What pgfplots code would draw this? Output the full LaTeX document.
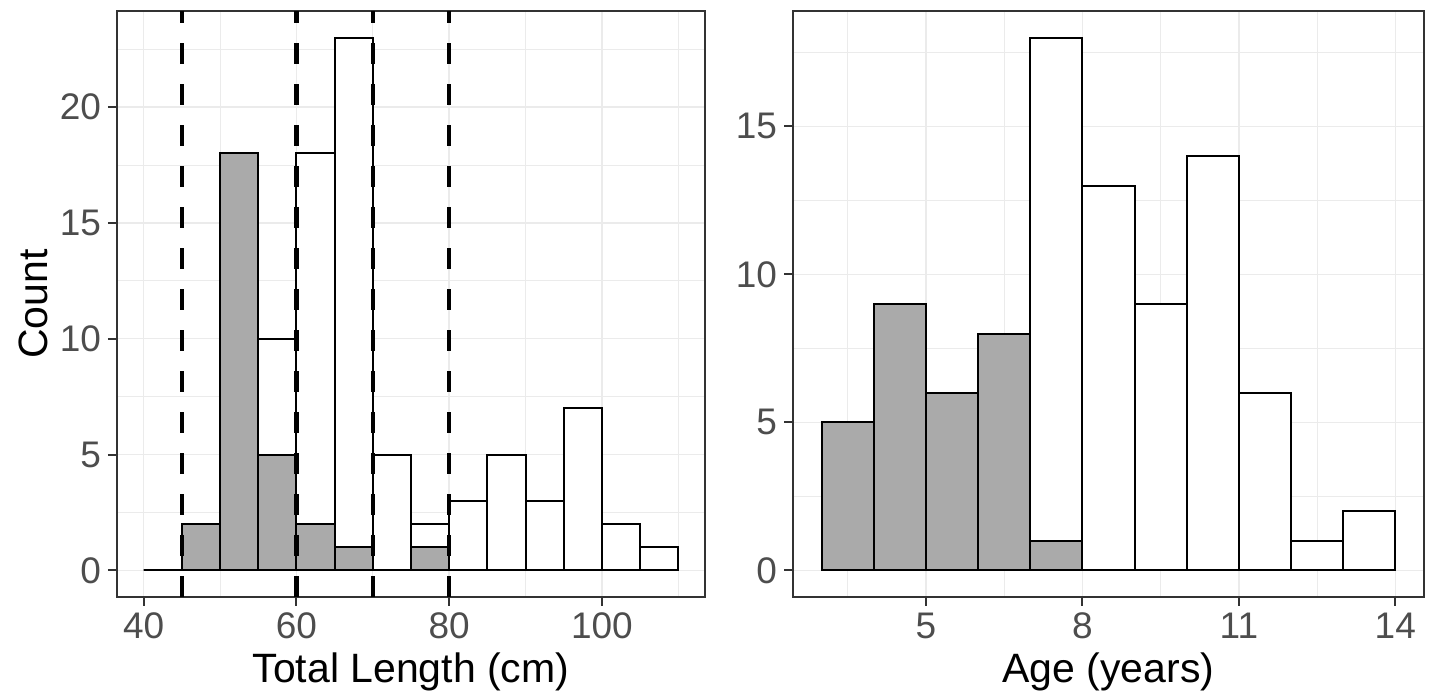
\documentclass[border=0pt]{standalone}
\usepackage{pgfplots}
\pgfplotsset{compat=1.18}
\usepackage{fontspec}
\setmainfont{Liberation Sans}

\definecolor{gridgray}{HTML}{EBEBEB}
\definecolor{framegray}{HTML}{333333}
\definecolor{ticktext}{HTML}{4D4D4D}
\definecolor{agedfill}{HTML}{AAAAAA}

% 1 px of the reference = 0.5pt
\pgfplotsset{
  panel/.style={
    scale only axis,
    anchor=south west,
    height=293pt,
    tick pos=left,
    tick align=outside,
    major tick length=4.5pt,
    minor tick length=0pt,
    major tick style={draw=framegray, line width=1pt},
    axis line style={draw=framegray, line width=0.8pt},
    grid=both,
    major grid style={draw=gridgray, line width=0.75pt},
    minor grid style={draw=gridgray, line width=0.4pt},
    /pgf/number format/assume math mode=true,
    ticklabel style={font=\fontsize{18.5}{20}\selectfont, text=ticktext},
    label style={font=\fontsize{20.5}{23}\selectfont, text=black},
  },
  totbar/.style={ybar interval, fill=white, draw=black, line width=1pt},
  agebar/.style={ybar interval, fill=agedfill, draw=black, line width=1pt},
  cutline/.style={black, line width=2.3pt, dash pattern=on 10.25pt off 10.25pt},
}

\begin{document}
\begin{tikzpicture}
\useasboundingbox (0,0) rectangle (716pt,347pt);

% ---- left panel: total length
\begin{axis}[panel,
  at={(58.5pt,48.5pt)},
  width=294pt,
  xmin=36.5, xmax=113.5,
  ymin=-1.15, ymax=24.15,
  xtick={40,60,80,100},
  minor xtick={50,70,90,110},
  ytick={0,5,10,15,20},
  minor ytick={2.5,7.5,12.5,17.5,22.5},
  xlabel={Total Length (cm)},
  ylabel={Count},
  xlabel style={at={(axis description cs:0.5,-0.128)}, anchor=center},
  ylabel style={at={(axis description cs:-0.143,0.5)}, anchor=center, rotate=0},
]
\addplot[totbar] coordinates {
  (40,0) (45,2) (50,18) (55,10) (60,18) (65,23) (70,5) (75,2)
  (80,3) (85,5) (90,3) (95,7) (100,2) (105,1) (110,1)};
\addplot[agebar] coordinates {
  (45,2) (50,18) (55,5) (60,2) (65,1) (70,0) (75,1) (80,1)};
\addplot[cutline] coordinates {(45,-1.15) (45,24.15)};
\addplot[cutline] coordinates {(60,-1.15) (60,24.15)};
\addplot[cutline] coordinates {(70,-1.15) (70,24.15)};
\addplot[cutline] coordinates {(80,-1.15) (80,24.15)};
\end{axis}

% ---- right panel: age
\begin{axis}[panel,
  at={(396.5pt,48.5pt)},
  width=315.5pt,
  xmin=2.45, xmax=14.55,
  ymin=-0.9, ymax=18.9,
  xtick={5,8,11,14},
  minor xtick={3.5,6.5,9.5,12.5},
  ytick={0,5,10,15},
  minor ytick={2.5,7.5,12.5,17.5},
  xlabel={Age (years)},
  xlabel style={at={(axis description cs:0.5,-0.128)}, anchor=center},
]
\addplot[totbar] coordinates {
  (3,5) (4,9) (5,6) (6,8) (7,18) (8,13) (9,9) (10,14)
  (11,6) (12,1) (13,2) (14,2)};
\addplot[agebar] coordinates {
  (3,5) (4,9) (5,6) (6,8) (7,1) (8,1)};
\end{axis}
\end{tikzpicture}
\end{document}
